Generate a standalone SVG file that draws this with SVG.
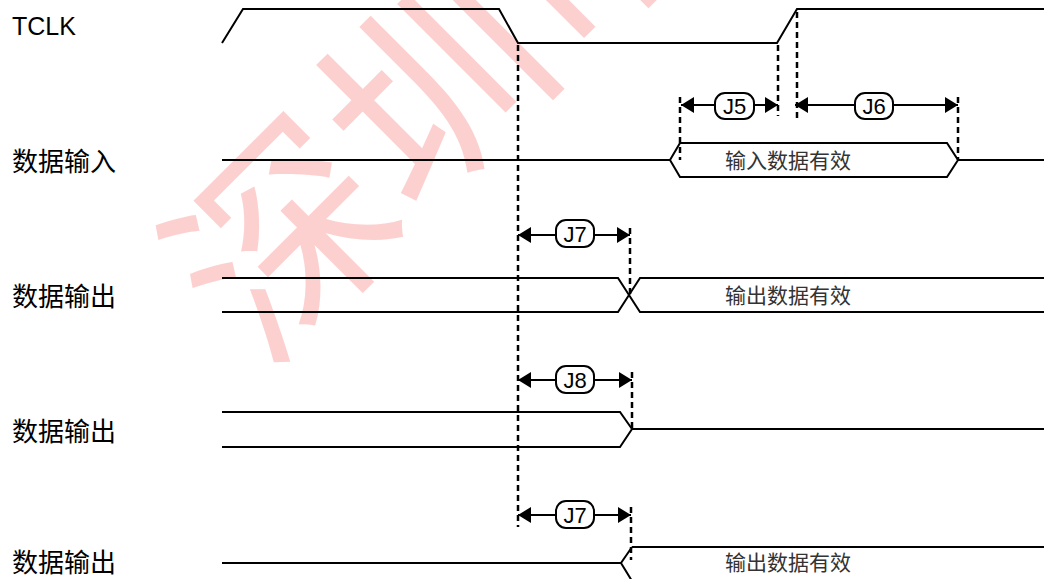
<svg xmlns="http://www.w3.org/2000/svg" width="1044" height="579" viewBox="0 0 1044 579">
<style>
.sig{fill:none;stroke:#000;stroke-width:2;stroke-linejoin:miter}
.dash{fill:none;stroke:#000;stroke-width:2.5;stroke-dasharray:6,4}
.dim{fill:none;stroke:#000;stroke-width:2}
.lbl{font-family:"Liberation Sans","Noto Sans CJK SC",sans-serif;font-size:25px;fill:#000}
.lblc{font-family:"Noto Sans CJK SC","Liberation Sans",sans-serif;font-size:26px;fill:#000}
.in{font-family:"Noto Sans CJK SC","Liberation Sans",sans-serif;font-size:21px;fill:#333}
.tag{fill:#fff;stroke:#000;stroke-width:2}
.tagt{font-family:"Liberation Sans",Arial,sans-serif;font-size:22px;fill:#000;text-anchor:middle}
.wm{font-family:"Noto Sans CJK SC",sans-serif;font-size:215px;fill:#fdd0d0}
</style>
<defs>
<marker id="ah" viewBox="0 0 13 16" refX="13" refY="8" markerWidth="13" markerHeight="16" markerUnits="userSpaceOnUse" orient="auto-start-reverse">
<path d="M0,0 L13,8 L0,16 Z" fill="#000"/>
</marker>
</defs>
<g id="watermark">
<text class="wm" transform="translate(263,370) rotate(-45)">深圳市</text>
</g>
<g id="labels">
<text class="lbl" x="12" y="35">TCLK</text>
<text class="lblc" x="12" y="171">数据输入</text>
<text class="lblc" x="12" y="306">数据输出</text>
<text class="lblc" x="12" y="441">数据输出</text>
<text class="lblc" x="12" y="572">数据输出</text>
</g>
<g id="tclk">
<path class="sig" d="M222,43 L243,9 L499,9 L518,43 L777,43 L797,9 L1044,9"/>
</g>
<g id="data-in">
<path class="sig" d="M222,160 L670,160 M958,160 L1044,160"/>
<path class="sig" d="M670,160 L680,143 L947,143 L958,160 L947,177 L680,177 Z"/>
<text class="in" x="725" y="168">输入数据有效</text>
</g>
<g id="data-out-1">
<path class="sig" d="M222,278 L618,278 L640,312 L1044,312 M222,312 L618,312 L640,278 L1044,278"/>
<text class="in" x="725" y="303">输出数据有效</text>
</g>
<g id="data-out-2">
<path class="sig" d="M222,412 L620,412 L632,429 L620,447 L222,447 M632,429 L1044,429"/>
</g>
<g id="data-out-3">
<path class="sig" d="M222,563 L621,563 M632,547 L621,563 L632,581 M632,547 L1044,547"/>
<text class="in" x="725" y="570">输出数据有效</text>
</g>
<g id="connectors">
<path class="dash" d="M518,45 L518,527"/>
<path class="dash" d="M680,97 L680,160"/>
<path class="dash" d="M778,45 L778,116"/>
<path class="dash" d="M797,12 L797,118"/>
<path class="dash" d="M958,97 L958,160"/>
<path class="dash" d="M630,228 L630,296"/>
<path class="dash" d="M632,372 L632,429"/>
<path class="dash" d="M631,507 L631,560"/>
<path class="dim" d="M681,105 L778,105" marker-start="url(#ah)" marker-end="url(#ah)"/>
<path class="dim" d="M795,105 L958,105" marker-start="url(#ah)" marker-end="url(#ah)"/>
<path class="dim" d="M518,235 L630,235" marker-start="url(#ah)" marker-end="url(#ah)"/>
<path class="dim" d="M518,380 L632,380" marker-start="url(#ah)" marker-end="url(#ah)"/>
<path class="dim" d="M518,515 L631,515" marker-start="url(#ah)" marker-end="url(#ah)"/>
</g>
<g id="tag-j5"><rect class="tag" x="715" y="93" width="39" height="26" rx="10"/><text class="tagt" x="734.5" y="114">J5</text></g>
<g id="tag-j6"><rect class="tag" x="855" y="93" width="38" height="26" rx="10"/><text class="tagt" x="874" y="114">J6</text></g>
<g id="tag-j7a"><rect class="tag" x="556" y="220" width="38" height="27" rx="10"/><text class="tagt" x="575" y="242">J7</text></g>
<g id="tag-j8"><rect class="tag" x="556" y="366" width="38" height="27" rx="10"/><text class="tagt" x="575" y="388">J8</text></g>
<g id="tag-j7b"><rect class="tag" x="556" y="501" width="38" height="27" rx="10"/><text class="tagt" x="575" y="523">J7</text></g>
</svg>
